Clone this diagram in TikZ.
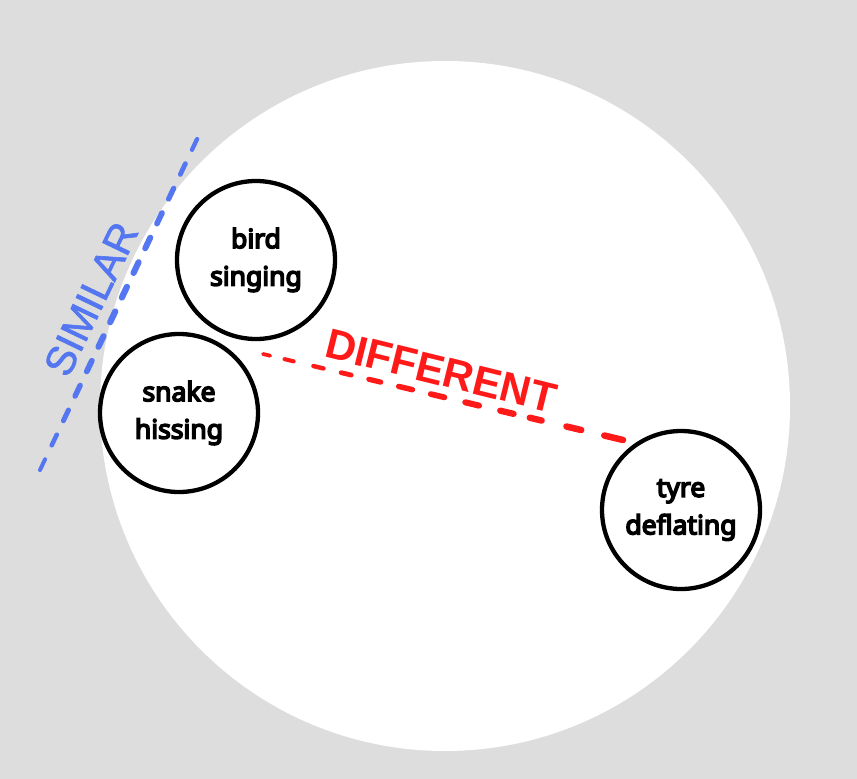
\documentclass[tikz,border=0pt]{standalone}
\usepackage{fontspec}
\setmainfont{Noto Sans}
\newfontfamily\nodefont[FakeBold=6]{Noto Sans}
\newfontfamily\labelfont{Liberation Sans}
\newfontfamily\simfont[FakeBold=1.5]{Liberation Sans}
\usetikzlibrary{calc}
\definecolor{bggray}{RGB}{221,221,221}
\definecolor{simblue}{RGB}{84,118,240}
\definecolor{diffred}{RGB}{255,26,26}
\begin{document}
\begin{tikzpicture}[x=1pt,y=-1pt,
  item/.style={circle, draw=black, line width=4.3pt, fill=white, minimum size=158pt,
    inner sep=0pt, align=center, font=\nodefont\fontsize{26.5}{37.5}\selectfont},
  reddash/.style={draw=diffred, line cap=round},
  bluedash/.style={draw=simblue, line cap=round}]
\fill[bggray] (0,0) rectangle (857,779);
\useasboundingbox (0,0) rectangle (857,779);
\node[circle, fill=white, minimum size=690pt, inner sep=0pt] (world) at (445,406) {};
\node[item] (bird) at (256,260) {bird\\singing};
\node[item] (snake) at (179,413) {snake\\hissing};
\node[item] (tyre) at (681,510) {tyre\\deflating};
% similar line
\coordinate (bs) at (40,470);
\coordinate (be) at (199,135);
\foreach \i in {0,...,13}{
  \pgfmathsetmacro\ta{\i/13.6}
  \pgfmathsetmacro\tb{\ta+0.032}
  \pgfmathsetmacro\w{4+2.2*sin(180*\ta)}
  \draw[bluedash, line width=\w pt] ($(bs)!\ta!(be)$) -- ($(bs)!\tb!(be)$);
}
% different line
\coordinate (rs) at (263,354);
\coordinate (re) at (623,440);
\foreach \a/\b/\w in {0/.02/3.8, .06/.085/4.1, .14/.168/4.4, .217/.245/4.8, .294/.327/5.2,
  .377/.415/5.5, .466/.504/5.8, .562/.6/6.1, .659/.696/6.3, .741/.774/6.4, .843/.884/6.5, .948/1/6.5}{
  \draw[reddash, line width=\w pt] ($(rs)!\a!(re)$) -- ($(rs)!\b!(re)$);
}
\node[text=simblue, font=\simfont\fontsize{41}{41}\selectfont, rotate=64.3, inner sep=0pt] (simlabel) at (91,299) {SIMILAR};
\node[text=diffred, font=\labelfont\bfseries\fontsize{42}{42}\selectfont, rotate=-13.9, inner sep=0pt] (difflabel) at (441,371) {DIFFERENT};
\end{tikzpicture}
\end{document}
